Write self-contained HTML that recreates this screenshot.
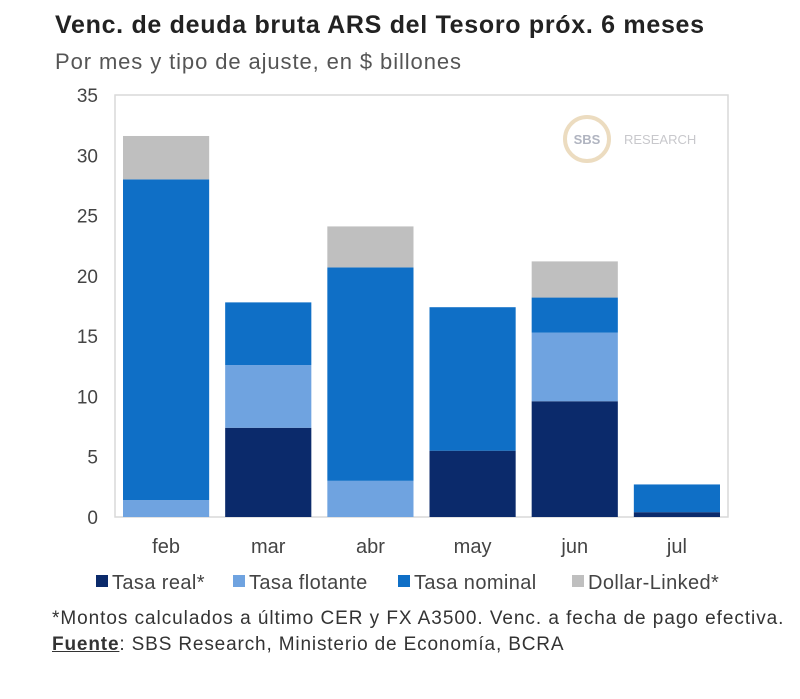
<!DOCTYPE html>
<html><head><meta charset="utf-8"><style>
body{margin:0;background:#fff;font-family:"Liberation Sans",sans-serif;}
#wrap{position:relative;width:800px;height:699px;overflow:hidden;}
.t{position:absolute;white-space:nowrap;color:#333;}
</style></head><body>
<div id="wrap">
<div class="t" style="left:55px;top:11px;font-size:25px;letter-spacing:0.7px;font-weight:bold;color:#222">Venc. de deuda bruta ARS del Tesoro próx. 6 meses</div>
<div class="t" style="left:55px;top:49px;font-size:22px;letter-spacing:0.9px;color:#555">Por mes y tipo de ajuste, en $ billones</div>
<svg id="chart" width="800" height="699" style="position:absolute;left:0;top:0"></svg>
<div class="t" style="left:52px;top:608px;font-size:19px;letter-spacing:0.95px;color:#333">*Montos calculados a último CER y FX A3500. Venc. a fecha de pago efectiva.</div>
<div class="t" style="left:52px;top:634px;font-size:19px;letter-spacing:0.85px;color:#333"><b style="text-decoration:underline">Fuente</b>: SBS Research, Ministerio de Economía, BCRA</div>
</div>
<script>
const categories=["feb","mar","abr","may","jun","jul"];
const tasaReal=[0,7.4,0,5.5,9.6,0.4];
const tasaFlotante=[1.4,5.2,3.0,0,5.7,0];
const tasaNominal=[26.6,5.2,17.7,11.9,2.9,2.3];
const dollarLinked=[3.6,0,3.4,0,3.0,0];
const yTicks=[0,5,10,15,20,25,30,35];
const seriesNames=["Tasa real*","Tasa flotante","Tasa nominal","Dollar-Linked*"];
const colors=["#0b2a6b","#6fa3e0","#0f6fc6","#bfbfbf"];
const NS="http://www.w3.org/2000/svg";
const svg=document.getElementById('chart');
const X0=115,X1=728,Y0=517,Y1=95,YMAX=35;
const y=v=>Y0-(v/YMAX)*(Y0-Y1);
const band=(X1-X0)/categories.length;
const x=i=>X0+i*band;
function mk(t,a){const e=document.createElementNS(NS,t);for(const k in a)e.setAttribute(k,a[k]);svg.appendChild(e);return e;}
let f=mk('rect',{x:X0,y:Y1,width:X1-X0,height:Y0-Y1,fill:'none',stroke:'#d9d9d9','stroke-width':1.5});


let lc=mk('circle',{cx:587,cy:139,r:22,fill:'none',stroke:'#ecdcc0','stroke-width':4});


let lt=mk('text',{x:587,y:144,'text-anchor':'middle','font-size':13,'font-weight':'bold',fill:'#b0b4c0'});lt.textContent='SBS';


let lr=mk('text',{x:624,y:144,'font-size':13,fill:'#c8c8cc'});lr.textContent='RESEARCH';


yTicks.forEach(v=>{let t=mk('text',{x:98,y:y(v)+7,'text-anchor':'end','font-size':19,fill:'#444'});t.textContent=v;

});
const series=[tasaReal,tasaFlotante,tasaNominal,dollarLinked];
categories.forEach((c,i)=>{
  let acc=0;
  series.forEach((s,k)=>{
    if(s[i]>0){let r=mk('rect',{x:x(i)+8,y:y(acc+s[i]),width:band-16,height:y(acc)-y(acc+s[i]),fill:colors[k]});
    
    }
    acc+=s[i];
  });
  let t=mk('text',{x:x(i)+band/2,y:553,'text-anchor':'middle','font-size':20,fill:'#444'});t.textContent=c;
  
  
});
const lx=[96,233,398,572];
seriesNames.forEach((n,k)=>{
  let r=mk('rect',{x:lx[k],y:575,width:12,height:12,fill:colors[k]});
  
  
  let t=mk('text',{x:lx[k]+16,y:589,'font-size':20,'letter-spacing':0.4,fill:'#444'});t.textContent=n;
  
  
});
</script>
</body></html>
